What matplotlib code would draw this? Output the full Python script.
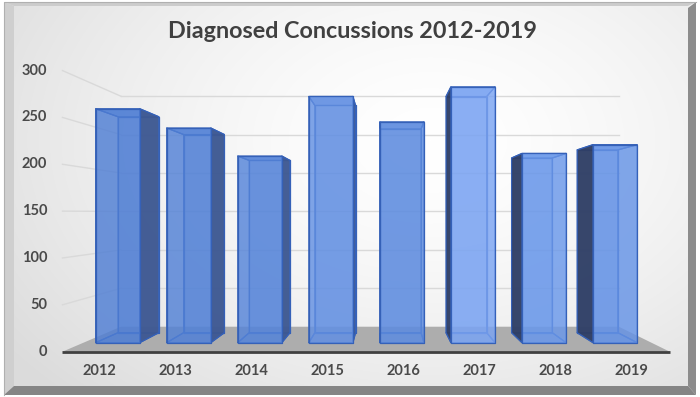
import numpy as np
import matplotlib
matplotlib.use('Agg')
import matplotlib.pyplot as plt
from matplotlib.patches import Polygon
from mpl_toolkits.mplot3d.art3d import Poly3DCollection
from mpl_toolkits.mplot3d import proj3d

# ---------------- data ----------------
years = ['2012', '2013', '2014', '2015', '2016', '2017', '2018', '2019']
concussions = [267, 245, 213, 281, 252, 292, 216, 226]
value_ticks = [0, 50, 100, 150, 200, 250, 300]
title_text = 'Diagnosed Concussions 2012-2019'

# ---------------- style / layout ----------------
W, H, DPI = 700, 397, 100
FONT = ['Lato', 'DejaVu Sans']
TEXT_COLOR = '#404040'
LABEL_COLOR = '#4A4A4A'
front_colors = ['#4F7ED4', '#5281D6', '#5584D9', '#6390E2',
                '#5E8CDF', '#7BA4F2', '#6A98EA', '#6593E6']
SIDE_LEFT_BARS = '#3E5891'    # right side of bars left of the vanishing point
SIDE_RIGHT_BARS = '#2F3E64'   # left side of bars right of the vanishing point
EDGE = '#3561B8'
FLOOR = '#ADADAD'
GRID = '#D9D9D9'

VP_PX = (387.0, H - 213.0)     # vanishing point in pixels (from bottom)
FRONT_CAT_PX = 76.0            # px per category at floor front
FRONT_VAL_PX = 0.937           # px per value unit at floor front
BACK_RATIO = 0.82              # scale at back wall / scale at floor front
VP_CAT = 3.79                  # category position of eye
VP_VAL = 148.0                 # value height of eye
FLOOR_X = (-0.48, 7.51)
BAR_W = 0.62
BAR_Y = (0.317, 0.724)

fig = plt.figure(figsize=(W / DPI, H / DPI), dpi=DPI)
fig.patch.set_facecolor('white')

# ---- background panel with gradient and bevel frame ----
bg = fig.add_axes([0, 0, 1, 1], zorder=-10)
bg.set_xlim(0, W)
bg.set_ylim(H, 0)
bg.axis('off')
yy, xx = np.mgrid[0:H, 0:W]
d = np.sqrt(((xx - 430) / 500.0) ** 2 + ((yy - 140) / 340.0) ** 2)
g = np.clip(1.0 - 0.13 * d ** 1.5, 0.86, 1.0)
img = np.dstack([g, g, g])
bg.imshow(img, extent=(0, W, H, 0), aspect='auto', zorder=0)
frame = [
    ([(0, 0), (W, 0), (W, 2), (0, 2)], 'white'),
    ([(0, H), (W, H), (W, H - 2), (0, H - 2)], 'white'),
    ([(0, 0), (4, 0), (4, H), (0, H)], 'white'),
    ([(W, 0), (W - 4, 0), (W - 4, H), (W, H)], 'white'),
    ([(4, 2), (W - 4, 2), (W - 12, 6), (14, 6)], '#CCCCCC'),
    ([(4, 2), (14, 6), (14, 386), (4, H - 2)], '#CFCFCF'),
    ([(4, H - 2), (14, 386), (W - 12, 386), (W - 4, H - 2)], '#858585'),
    ([(W - 4, 2), (W - 12, 8), (W - 12, 386), (W - 4, H - 2)], '#8C8C8C'),
]
for pts, c in frame:
    bg.add_patch(Polygon(pts, closed=True, facecolor=c, edgecolor='none', zorder=2))
bg.plot([4, 4, W - 4], [H - 2, 2, 2], color='#B0B0B0', lw=0.8, zorder=3)

# ---- 3D axes ----
ax = fig.add_axes([0, 0, 1, 1], projection='3d')
ax.set_axis_off()
ax.set_facecolor('none')
ax.computed_zorder = False

dist = float(getattr(ax, '_dist', 10))
vx0, vx1 = ax.viewLim.intervalx
vy0, vy1 = ax.viewLim.intervaly
S = 780.0
px_per_proj = S / (vx1 - vx0)
left = VP_PX[0] - S * (-vx0 / (vx1 - vx0))
bottom = VP_PX[1] - S * (-vy0 / (vy1 - vy0))
ax.set_position([left / W, bottom / H, S / W, S / H])

by = 0.5
A = by / 2 * (1 + BACK_RATIO) / (1 - BACK_RATIO)
f = A / dist
d_front = A - by / 2
px_per_norm = px_per_proj * f / d_front
bx_per_cat = FRONT_CAT_PX / px_per_norm
bz_per_val = FRONT_VAL_PX / px_per_norm
half_x = 5.0
half_z = 160.0
ax.set_xlim(VP_CAT - half_x, VP_CAT + half_x)
ax.set_ylim(0, 1)
ax.set_zlim(VP_VAL - half_z, VP_VAL + half_z)
bx = 2 * half_x * bx_per_cat
bz = 2 * half_z * bz_per_val
aspect = np.array([bx, by, bz])
ax.set_box_aspect(aspect, zoom=np.linalg.norm(aspect) / (1.8294640721620434 * 25 / 24))
ax.set_proj_type('persp', focal_length=f)
ax.view_init(elev=0, azim=-90, roll=0)

# floor
floor = Poly3DCollection([[(FLOOR_X[0], 0, 0), (FLOOR_X[1], 0, 0),
                           (FLOOR_X[1], 1, 0), (FLOOR_X[0], 1, 0)]],
                         facecolors=FLOOR, edgecolors='none', zorder=1)
ax.add_collection3d(floor)

# gridlines on back wall and left wall
for v in value_ticks[1:]:
    ax.plot([FLOOR_X[0], FLOOR_X[1]], [1, 1], [v, v], color=GRID, lw=1.0, zorder=1.5)
    ax.plot([FLOOR_X[0], FLOOR_X[0]], [0, 1], [v, v], color=GRID, lw=1.0, zorder=1.5)

# front axis line
ax.plot([FLOOR_X[0], FLOOR_X[1]], [0, 0], [0, 0], color='#404040', lw=2.0,
        zorder=2, solid_capstyle='butt')

# bars
xs = np.arange(len(years), dtype=float)


def with_alpha(c, al):
    c = np.array(matplotlib.colors.to_rgba(c))
    c[3] = al
    return c


facecols = []
for i, xc in enumerate(xs):
    base = front_colors[i]
    left_vis = (xc - BAR_W / 2) > VP_CAT
    right_vis = (xc + BAR_W / 2) < VP_CAT
    facecols += [
        with_alpha(base, 0.25),                                   # bottom
        with_alpha(base, 0.55),                                   # top
        with_alpha(base, 0.82),                                   # front
        with_alpha(base, 0.35),                                   # back
        with_alpha(SIDE_RIGHT_BARS, 0.95) if left_vis else with_alpha(base, 0.0),   # -x
        with_alpha(SIDE_LEFT_BARS, 0.95) if right_vis else with_alpha(base, 0.0),   # +x
    ]
ax.bar3d(xs - BAR_W / 2, np.full(len(xs), BAR_Y[0]), np.zeros(len(xs)),
         BAR_W, BAR_Y[1] - BAR_Y[0], concussions,
         color=facecols, edgecolor=EDGE, linewidth=0.9, shade=False, zorder=3)

# tick labels, placed through the 3D projection as 2D texts
M = ax.get_proj()
for v in value_ticks:
    px, py, _ = proj3d.proj_transform(-0.68, 0.0, float(v), M)
    ax.text2D(px, py, str(v), transform=ax.transData, ha='right', va='center',
              fontsize=10.5, fontweight='bold', color=LABEL_COLOR, family=FONT)
for i, yr in enumerate(years):
    px, py, _ = proj3d.proj_transform(xs[i], 0.0, -20.5, M)
    ax.text2D(px, py, yr, transform=ax.transData, ha='center', va='center',
              fontsize=10.5, fontweight='bold', color=LABEL_COLOR, family=FONT)

fig.text(352 / W, 1 - 32 / H, title_text, ha='center', va='center',
         fontsize=16.8, fontweight='bold', color=TEXT_COLOR, family=FONT)

fig.savefig('out.png', dpi=DPI)
